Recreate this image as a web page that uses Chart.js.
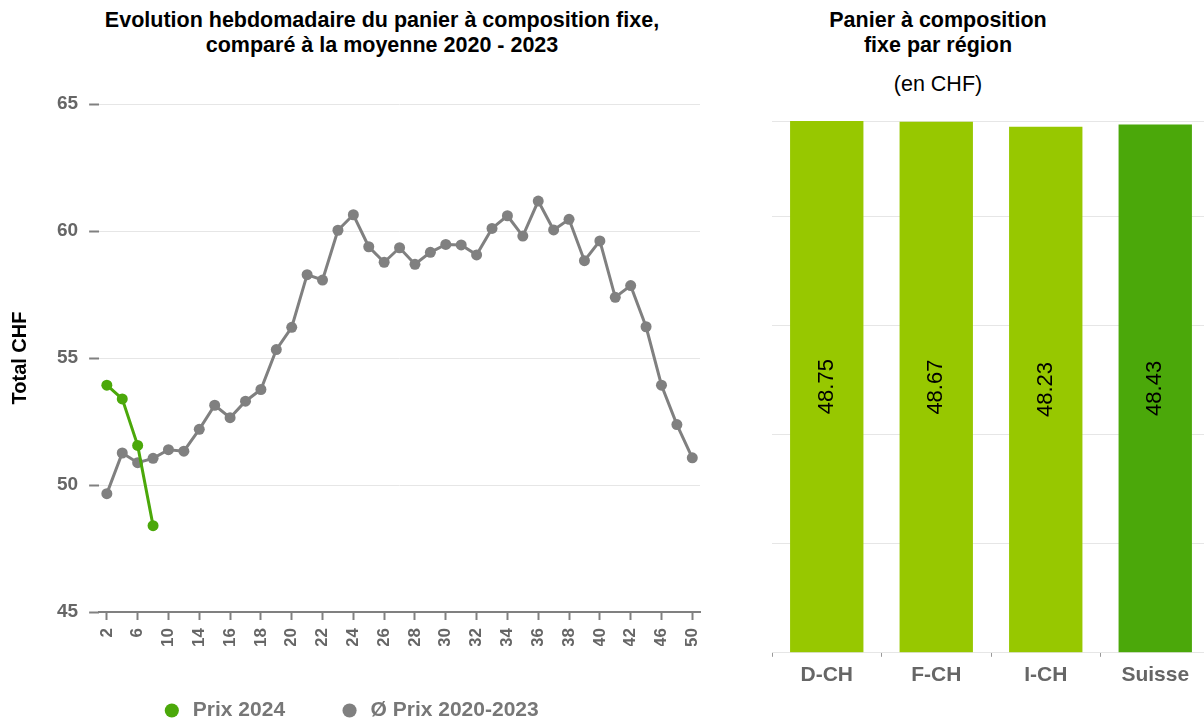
<!DOCTYPE html>
<html lang="fr">
<head>
<meta charset="utf-8">
<title>Panier à composition fixe</title>
<script src="https://cdn.jsdelivr.net/npm/chart.js@4.4.1/dist/chart.umd.min.js"></script>
<style>
    html, body { margin: 0; padding: 0; background: #fff; overflow: hidden; }
    body { width: 1204px; height: 720px; position: relative; font-family: "Liberation Sans", Arial, sans-serif; }
    .title { position: absolute; text-align: center; font-weight: bold; font-size: 21.5px; line-height: 25px; color: #000; }
    #weekTitle { left: 0; top: 8px; width: 764px; }
    #regionTitle { left: 760px; top: 8px; width: 356px; }
    #regionSub { position: absolute; left: 760px; top: 72px; width: 356px; text-align: center; font-size: 21.5px; line-height: 25px; color: #000; }
    #weekWrap { position: absolute; left: 0; top: 0; width: 710px; height: 731px; }
    #regionWrap { position: absolute; left: 760px; top: 0; width: 450px; height: 720px; }
</style>
</head>
<body>
<div id="weekTitle" class="title">Evolution hebdomadaire du panier à composition fixe,<br>comparé à la moyenne 2020 - 2023</div>
<div id="regionTitle" class="title">Panier à composition<br>fixe par région</div>
<div id="regionSub">(en CHF)</div>
<div id="weekWrap"><canvas id="weekChart"></canvas></div>
<div id="regionWrap"><canvas id="regionChart"></canvas></div>

<script>
// Weekly basket (left chart)
const weeks = [2, 4, 6, 8, 10, 12, 14, 15, 16, 17, 18, 19, 20, 21, 22, 23, 24, 25, 26, 27,
    28, 29, 30, 31, 32, 33, 34, 35, 36, 37, 38, 39, 40, 41, 42, 44, 46, 48, 50];
const prix2024 = [53.93, 53.39, 51.56, 48.40];
const prixMoyen = [49.66, 51.26, 50.88, 51.05, 51.39, 51.33, 52.19, 53.14, 52.65, 53.30,
    53.76, 55.33, 56.21, 58.28, 58.07, 60.03, 60.64, 59.38, 58.77, 59.34,
    58.69, 59.16, 59.47, 59.45, 59.06, 60.10, 60.60, 59.80, 61.18, 60.04,
    60.46, 58.83, 59.61, 57.39, 57.85, 56.23, 53.93, 52.38, 51.07];

// Basket by region (right chart)
const regions = ['D-CH', 'F-CH', 'I-CH', 'Suisse'];
const regionValues = [48.75, 48.67, 48.23, 48.43];
const regionColors = ['#97c800', '#97c800', '#97c800', '#4ba80a'];

const GREEN = '#4ba80a';
const GREY = '#808080';
const LABEL_GREY = '#666666';

Chart.defaults.font.family = '"Liberation Sans", Arial, sans-serif';
Chart.defaults.animation = false;

new Chart(document.getElementById('weekChart'), {
    type: 'line',
    data: {
        labels: weeks,
        datasets: [
            {
                label: 'Prix 2024',
                data: prix2024,
                borderColor: GREEN,
                backgroundColor: GREEN,
                pointBackgroundColor: GREEN,
                borderWidth: 3,
                pointRadius: 5.5,
                pointBorderWidth: 0
            },
            {
                label: 'Ø Prix 2020-2023',
                data: prixMoyen,
                borderColor: GREY,
                backgroundColor: GREY,
                pointBackgroundColor: GREY,
                borderWidth: 3,
                pointRadius: 5.5,
                pointBorderWidth: 0
            }
        ]
    },
    options: {
        responsive: true,
        maintainAspectRatio: false,
        layout: { padding: { left: 0, right: 10, top: 104, bottom: 0 } },
        plugins: {
            legend: {
                position: 'bottom',
                labels: {
                    usePointStyle: true,
                    pointStyle: 'circle',
                    boxHeight: 10,
                    padding: 54,
                    color: '#777777',
                    font: { size: 21, weight: 'bold' }
                }
            },
            tooltip: { enabled: false }
        },
        scales: {
            x: {
                offset: true,
                border: { color: GREY, width: 2 },
                grid: {
                    drawOnChartArea: false,
                    tickLength: 8,
                    tickWidth: 2,
                    tickColor: ctx => (ctx.index % 2 === 0 ? GREY : 'rgba(0,0,0,0)')
                },
                ticks: {
                    autoSkip: false,
                    minRotation: 90,
                    maxRotation: 90,
                    padding: 8,
                    color: LABEL_GREY,
                    font: { size: 17, weight: 'bold' },
                    callback: function (value, index) {
                        return index % 2 === 0 ? this.getLabelForValue(value) : '';
                    }
                },
                afterFit: scale => {
                    scale.height = 34;
                    scale.paddingRight = 0;
                }
            },
            y: {
                min: 45,
                max: 65,
                border: { display: false },
                grid: { color: '#e6e6e6', lineWidth: 1, tickLength: 10, tickWidth: 2, tickColor: GREY },
                ticks: { stepSize: 5, padding: 11, color: LABEL_GREY, font: { size: 19, weight: 'bold' } },
                title: {
                    display: true,
                    text: 'Total CHF',
                    color: '#000',
                    font: { size: 20, weight: 'bold' },
                    padding: { top: 8, bottom: 14 }
                }
            }
        }
    }
});

// value written vertically in the middle of every bar
const barValueLabels = {
    id: 'barValueLabels',
    afterDatasetsDraw(chart) {
        const ctx = chart.ctx;
        const meta = chart.getDatasetMeta(0);
        ctx.save();
        ctx.font = '22px "Liberation Sans", Arial, sans-serif';
        ctx.fillStyle = '#000';
        ctx.textAlign = 'center';
        ctx.textBaseline = 'middle';
        meta.data.forEach((bar, i) => {
            ctx.save();
            ctx.translate(bar.x, (bar.y + bar.base) / 2);
            ctx.rotate(-Math.PI / 2);
            ctx.fillText(regionValues[i].toFixed(2), 0, 0);
            ctx.restore();
        });
        ctx.restore();
    }
};

new Chart(document.getElementById('regionChart'), {
    type: 'bar',
    data: {
        labels: regions,
        datasets: [{
            label: 'Panier',
            data: regionValues,
            backgroundColor: regionColors,
            barPercentage: 0.67,
            categoryPercentage: 1
        }]
    },
    options: {
        responsive: true,
        maintainAspectRatio: false,
        layout: { padding: { left: 12, right: 0, top: 121, bottom: 26 } },
        plugins: {
            legend: { display: false },
            tooltip: { enabled: false }
        },
        scales: {
            x: {
                border: { color: '#e6e6e6', width: 1 },
                grid: { drawOnChartArea: false, tickLength: 4, tickWidth: 1, tickColor: '#999999' },
                ticks: { padding: 6, color: LABEL_GREY, font: { size: 21, weight: 'bold' } }
            },
            y: {
                min: 0,
                max: 48.75,
                border: { display: false },
                grid: { color: '#e6e6e6', lineWidth: 1, drawTicks: false },
                ticks: { display: false, stepSize: 10 }
            }
        }
    },
    plugins: [barValueLabels]
});
</script>
</body>
</html>
